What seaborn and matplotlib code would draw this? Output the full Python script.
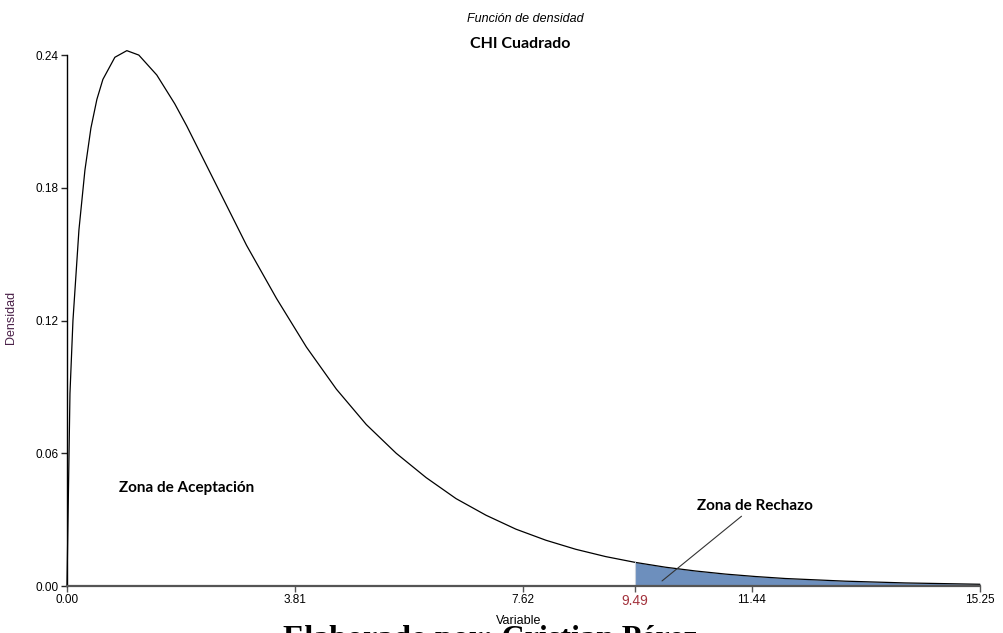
import numpy as np
import pandas as pd
import seaborn as sns
import matplotlib.pyplot as plt

# valores (chi cuadrado)
x_vals = [0.0, 0.05, 0.1, 0.2, 0.3, 0.4, 0.5, 0.6, 0.8, 1.0, 1.2, 1.5, 1.8, 2.0,
          2.5, 3.0, 3.5, 4.0, 4.5, 5.0, 5.5, 6.0, 6.5, 7.0, 7.5, 8.0, 8.5, 9.0,
          9.49, 10.0, 10.5, 11.0, 11.5, 12.0, 13.0, 14.0, 15.25]
dens = [0.0, 0.087, 0.120, 0.161, 0.188, 0.207, 0.220, 0.229, 0.239, 0.242,
        0.240, 0.231, 0.218, 0.208, 0.181, 0.154, 0.130, 0.108, 0.089, 0.073,
        0.060, 0.049, 0.0395, 0.032, 0.0257, 0.0207, 0.0166, 0.0133, 0.0107,
        0.0085, 0.0068, 0.0054, 0.0043, 0.0034, 0.0022, 0.0014, 0.0008]
x_ticks = [0.00, 3.81, 7.62, 9.49, 11.44, 15.25]
y_ticks = [0.00, 0.06, 0.12, 0.18, 0.24]
critico = 9.49

df = pd.DataFrame({'Variable': x_vals, 'Densidad': dens})

sns.set_theme(style='white')
plt.rcParams['font.family'] = ['Liberation Sans Narrow', 'Liberation Sans', 'DejaVu Sans']
plt.rcParams['text.color'] = 'black'
plt.rcParams['axes.labelcolor'] = 'black'

fig = plt.figure(figsize=(10.04, 6.33), dpi=100)
ax = fig.add_axes([0.0667, 0.0742, 0.9093, 0.8388])

sns.lineplot(data=df, x='Variable', y='Densidad', color='black', linewidth=0.9, ax=ax)
for ln in ax.lines:
    ln.set_clip_on(False)

# zona de rechazo
cola = df[df['Variable'] >= critico]
ax.fill_between(cola['Variable'], cola['Densidad'], color='#6d8fbd', linewidth=0, zorder=1)
ax.plot([critico, critico], [0, cola['Densidad'].iloc[0]], color='#c8d0dc', lw=0.8)

ax.set_xlim(0, 15.25)
ax.set_ylim(0, 0.24)
ax.set_xticks(x_ticks)
ax.set_xticklabels(['%.2f' % t for t in x_ticks])
ax.set_yticks(y_ticks)
ax.set_yticklabels(['%.2f' % t for t in y_ticks])
ax.tick_params(axis='both', direction='out', length=4, width=1, labelsize=8.5, pad=2,
               bottom=True, left=True, labelcolor='black')
ax.tick_params(axis='x', colors='#555555', labelcolor='black')
for lab in ax.get_xticklabels():
    if lab.get_text() == '9.49':
        lab.set_color('#a3333d')
        lab.set_fontsize(10)
ax.get_xticklines()[6].set_color('#a3333d')

for s in ['top', 'right']:
    ax.spines[s].set_visible(False)
ax.spines['left'].set_color('black')
ax.spines['left'].set_linewidth(1.0)
ax.spines['bottom'].set_color('#555555')
ax.spines['bottom'].set_linewidth(1.6)

ax.set_xlabel('Variable', fontsize=9)
ax.xaxis.set_label_coords(0.495, -0.054)
ax.set_ylabel('Densidad', fontsize=9, color='#4a2048')
ax.yaxis.set_label_coords(-0.055, 0.505)

fig.text(0.523, 0.970, 'Función de densidad', ha='center', va='center',
         fontsize=9, style='italic')
fig.text(0.518, 0.930, 'CHI Cuadrado', ha='center', va='center',
         fontsize=11.5, fontweight='bold', family=['Lato', 'DejaVu Sans'])

ax.text(0.87, 0.0443, 'Zona de Aceptación', ha='left', va='center',
        fontsize=11, fontweight='bold', family=['Lato', 'DejaVu Sans'])
ax.annotate('Zona de Rechazo', xy=(9.94, 0.0023), xytext=(11.49, 0.0362),
            ha='center', va='center', fontsize=11, fontweight='bold',
            family=['Lato', 'DejaVu Sans'],
            arrowprops=dict(arrowstyle='-', color='#333333', lw=0.8,
                            shrinkA=0, shrinkB=0, relpos=(0.42, 0.0)))

fig.text(0.282, 0.012, 'Elaborado por: Cristian Pérez', ha='left', va='top',
         fontsize=23, fontweight='bold', family=['Liberation Serif', 'DejaVu Serif'],
         zorder=-1)

plt.savefig('out.png', dpi=100)
